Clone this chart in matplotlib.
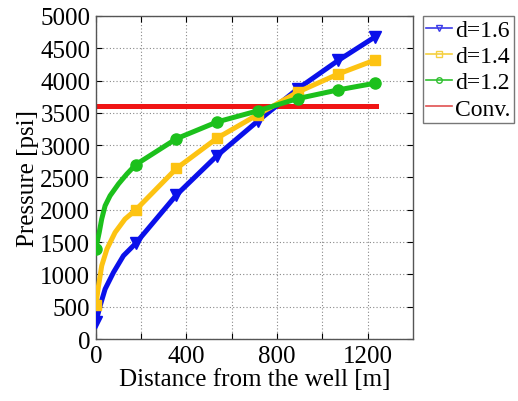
import matplotlib
matplotlib.use("Agg")
import matplotlib.pyplot as plt
from matplotlib.lines import Line2D

plt.rcParams['font.family'] = ['Liberation Serif', 'DejaVu Serif']

# curve sample positions [m] (markers at indices in mark_*)
x_blue = [0, 19, 41, 78, 122, 176, 356, 536, 714, 891, 1070, 1235]
p_blue = [258, 516, 774, 1032, 1290, 1480, 2230, 2840, 3370, 3870, 4310, 4680]
mark_blue = [0, 5, 6, 7, 8, 9, 10, 11]

x_yel = [0, 12, 26, 49, 85, 129, 176, 356, 536, 714, 891, 1070, 1235]
p_yel = [520, 825, 1135, 1393, 1650, 1858, 1997, 2640, 3110, 3470, 3820, 4100, 4320]
mark_yel = [0, 6, 7, 8, 9, 10, 11, 12]

x_grn = [0, 15, 26, 41, 63, 100, 137, 176, 356, 536, 714, 891, 1070, 1235]
p_grn = [1400, 1650, 1858, 2063, 2218, 2400, 2554, 2698, 3100, 3360, 3530, 3720, 3855, 3960]
mark_grn = [0, 7, 8, 9, 10, 11, 12, 13]

x_conv = [0, 1238]
p_conv = [3600, 3600]

labels = ['d=1.6', 'd=1.4', 'd=1.2', 'Conv.']

fig = plt.figure(figsize=(5.18, 4.02), dpi=100)
ax = fig.add_axes([0.185, 0.154, 0.612, 0.804])

ax.plot(x_blue, p_blue, color='#0a10ea', lw=3.6, marker='v', ms=8,
        markevery=mark_blue, label=labels[0], zorder=3, solid_joinstyle='round')
ax.plot(x_yel, p_yel, color='#fdc312', lw=3.6, marker='s', ms=7.5,
        markevery=mark_yel, label=labels[1], zorder=3, solid_joinstyle='round')
ax.plot(x_grn, p_grn, color='#1cc01c', lw=3.6, marker='o', ms=8,
        markevery=mark_grn, label=labels[2], zorder=3, solid_joinstyle='round')
ax.plot(x_conv, p_conv, color='#f01414', lw=3.6, label=labels[3], zorder=2)

ax.set_xlim(0, 1400)
ax.set_ylim(0, 5000)
ax.set_xticks([0, 400, 800, 1200])
ax.set_xticks([200, 600, 1000], minor=True)
ax.set_yticks(range(0, 5001, 500))
ax.grid(True, which='both', linestyle=(0, (1, 2)), color='#888888', lw=0.8)
ax.tick_params(which='both', direction='in', top=True, right=True,
               labelsize=18, length=4, width=0.8, pad=4)
for s in ax.spines.values():
    s.set_color('#555555')
    s.set_linewidth(1.0)

ax.set_xlabel('Distance from the well [m]', fontsize=18, labelpad=1)
ax.set_ylabel('Pressure [psi]', fontsize=18, labelpad=1)

lh = [Line2D([], [], color='#3a3ae8', lw=1.2, marker='v', ms=4, mfc='none'),
      Line2D([], [], color='#f5d040', lw=1.2, marker='s', ms=4, mfc='none'),
      Line2D([], [], color='#30c030', lw=1.2, marker='o', ms=4, mfc='none'),
      Line2D([], [], color='#e05050', lw=1.2)]
leg = fig.legend(lh, labels, loc='upper left', bbox_to_anchor=(0.816, 0.958),
                 fontsize=17, frameon=True, fancybox=False, handlelength=1.1,
                 handletextpad=0.12, borderpad=0.15, labelspacing=0.2,
                 borderaxespad=0)
leg.get_frame().set_edgecolor('#555555')
leg.get_frame().set_linewidth(1.0)

fig.savefig('out.png', dpi=100)
